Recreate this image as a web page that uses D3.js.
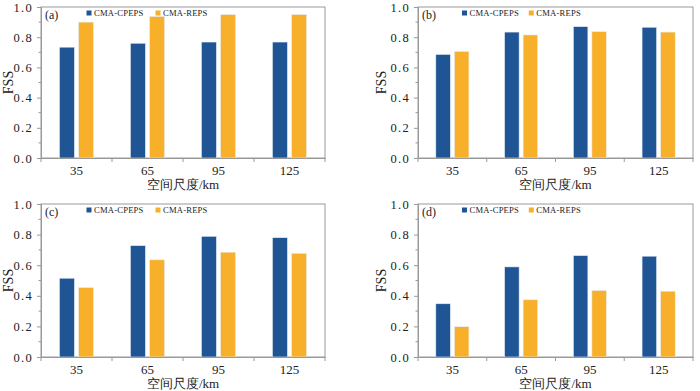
<!DOCTYPE html>
<html><head><meta charset="utf-8">
<script src="https://cdn.jsdelivr.net/npm/d3@7"></script>
<style>
html,body{margin:0;padding:0;background:#fff;}
svg{display:block;}
text{font-family:"Liberation Serif","Times New Roman",serif;fill:#222;}
</style></head>
<body>
<svg id="chart" width="700" height="391"></svg>
<script>
const categories = ["35","65","95","125"];
const seriesNames = ["CMA-CPEPS","CMA-REPS"];
const panelLabels = ["(a)","(b)","(c)","(d)"];
const cpepsA = [0.734,0.760,0.768,0.768];
const repsA  = [0.900,0.938,0.950,0.950];
const cpepsB = [0.686,0.834,0.870,0.866];
const repsB  = [0.706,0.815,0.837,0.834];
const cpepsC = [0.515,0.728,0.789,0.780];
const repsC  = [0.454,0.635,0.685,0.678];
const cpepsD = [0.348,0.589,0.663,0.659];
const repsD  = [0.198,0.374,0.435,0.430];
const yTicks = [0,0.2,0.4,0.6,0.8,1.0];
const colors = ["#1F5595","#F8B02A"];

const panels = [
  {label:panelLabels[0], data:[cpepsA,repsA], x0:41, x1:325, y0:7, y1:158, yl:8},
  {label:panelLabels[1], data:[cpepsB,repsB], x0:418, x1:693, y0:7, y1:158, yl:381},
  {label:panelLabels[2], data:[cpepsC,repsC], x0:41, x1:325, y0:204, y1:357, yl:8},
  {label:panelLabels[3], data:[cpepsD,repsD], x0:418, x1:693, y0:204, y1:357, yl:381}
];

const svg = d3.select("#chart");
const axisCol = "#999";

panels.forEach(p => {
  const g = svg.append("g");
  const x = d3.scaleBand().domain(categories).range([p.x0,p.x1]);
  const y = d3.scaleLinear().domain([0,1]).range([p.y1,p.y0]);
  const bw = x.bandwidth();
  const barW = bw*0.212, gap = bw*0.058;

  g.append("rect").attr("x",p.x0).attr("y",p.y0).attr("width",p.x1-p.x0).attr("height",p.y1-p.y0)
    .attr("fill","none").attr("stroke",axisCol).attr("stroke-width",1);

  seriesNames.forEach((s,si) => {
    g.selectAll(null).data(categories).enter().append("rect")
      .attr("x", c => x(c)+bw/2 + (si===0 ? -gap/2-barW : gap/2))
      .attr("y", (c,i) => y(p.data[si][i]))
      .attr("width", barW)
      .attr("height", (c,i) => y(0)-y(p.data[si][i]))
      .attr("fill", colors[si])
      .attr("stroke","#e8eef6").attr("stroke-width",0.6);
  });

  const yAxis = d3.axisLeft(y).tickValues(yTicks).tickFormat(d3.format(".1f")).tickSize(4).tickPadding(4);
  const ya = g.append("g").attr("transform",`translate(${p.x0},0)`).call(yAxis);
  ya.select(".domain").attr("stroke",axisCol);
  ya.selectAll(".tick line").attr("stroke",axisCol);
  ya.selectAll(".tick text").attr("font-size",12.5).attr("letter-spacing","1.3px")
    .attr("font-family","'Liberation Serif',serif").attr("fill","#222");
  const minor = d3.range(0.1,1.0,0.2);
  g.selectAll(null).data(minor).enter().append("line")
    .attr("x1",p.x0-2.5).attr("x2",p.x0).attr("y1",d=>y(d)).attr("y2",d=>y(d))
    .attr("stroke",axisCol);

  const xa = g.append("g").attr("transform",`translate(0,${p.y1})`)
    .call(d3.axisBottom(x).tickSize(0).tickPadding(8));
  xa.select(".domain").attr("stroke",axisCol);
  xa.selectAll(".tick text").attr("font-size",13).attr("font-family","'Liberation Serif',serif").attr("fill","#222");
  const bounds = categories.map(c => x(c)).concat([p.x1]);
  g.selectAll(null).data(bounds).enter().append("line")
    .attr("x1",d=>d).attr("x2",d=>d).attr("y1",p.y1).attr("y2",p.y1+4)
    .attr("stroke",axisCol);

  g.append("text").attr("x",p.x0+4).attr("y",p.y0+12).attr("font-size",12).text(p.label);
  g.append("text").attr("transform",`translate(${p.yl+5},${(p.y0+p.y1)/2}) rotate(-90)`)
    .attr("text-anchor","middle").attr("font-size",14).text("FSS");
  g.append("text").attr("x",(p.x0+p.x1)/2).attr("y",p.y1+31).attr("text-anchor","middle")
    .attr("font-size",13).attr("font-family","'Liberation Serif','Noto Sans CJK SC',serif")
    .text("空间尺度/km");

  const lx = p.x0 + 48*(p.x1-p.x0)/284, ly = p.y0+4;
  const lx2 = p.x0 + 117*(p.x1-p.x0)/284;
  [lx,lx2].forEach((xx,si) => {
    g.append("rect").attr("x",xx-2.5).attr("y",ly-0.5).attr("width",5).attr("height",5).attr("fill",colors[si]);
    g.append("text").attr("x",xx+5).attr("y",ly+5).attr("font-size",8.6).attr("letter-spacing","0.2px")
      .text(seriesNames[si]);
  });
});
</script>
</body></html>
